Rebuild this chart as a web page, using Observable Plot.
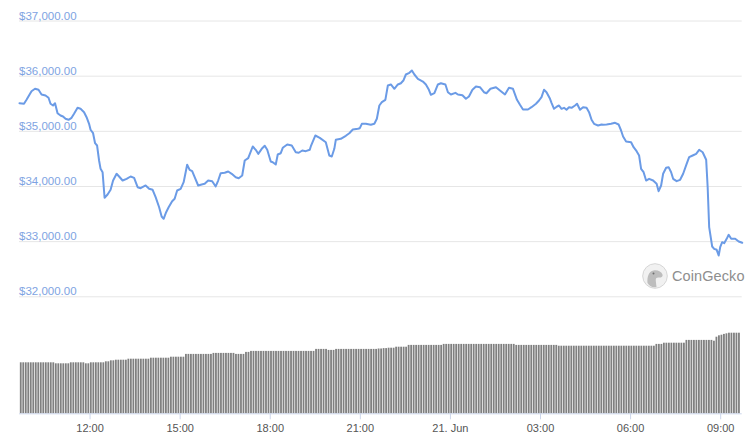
<!DOCTYPE html>
<html>
<head>
<meta charset="utf-8">
<script src="https://cdn.jsdelivr.net/npm/d3@7"></script>
<script src="https://cdn.jsdelivr.net/npm/@observablehq/plot@0.6"></script>
<style>
  html, body { margin: 0; padding: 0; background: #fff; }
  #chart { position: relative; width: 750px; height: 441px; overflow: hidden; font-family: "Liberation Sans", Arial, sans-serif; }
  #price { position: absolute; left: 0; top: 0; }
  #volume { position: absolute; left: 0; top: 320px; }
  #price svg, #volume svg { display: block; }
  #wm { position: absolute; left: 642px; top: 263px; height: 26px; display: flex; align-items: center; z-index: 5; }
  #wm span { margin-left: 4px; font-size: 14.5px; color: #8e8e8e; letter-spacing: 0.1px; }
  #volume [aria-label="x-axis"] line,
  #volume [aria-label="x-axis tick"],
  #volume [aria-label="x-axis tick"] path { stroke: #ccd6eb; }
</style>
</head>
<body>
<div id="chart">
  <div id="price"></div>
  <div id="volume"></div>
  <div id="wm">
    <svg width="26" height="26" viewBox="0 0 26 26">
      <circle cx="13" cy="13" r="12.3" fill="#f1f1f1" stroke="#d6d6d6" stroke-width="1"/>
      <path d="M5.5,20 C5,14 6.5,8.5 11.5,7.5 C15.5,6.8 19.5,8.5 20.5,11.5 C21.2,13.5 19.5,14.8 16.5,14.6 C14.5,14.5 13.5,15.5 13.8,18 L14.5,24 C11,24.8 7.5,23.5 5.5,20 Z" fill="#bdbdbd"/>
      <circle cx="11.5" cy="10.5" r="1" fill="#6e6e6e"/>
    </svg>
    <span>CoinGecko</span>
  </div>
</div>
<script>
// ---- data ----
const xStart = "2021-06-20 09:39";
const xEnd = "2021-06-21 09:43";

const priceTimes = [
  "2021-06-20 09:39","2021-06-20 09:48","2021-06-20 09:53","2021-06-20 09:58","2021-06-20 10:03","2021-06-20 10:10",
  "2021-06-20 10:17","2021-06-20 10:23","2021-06-20 10:31","2021-06-20 10:37","2021-06-20 10:41","2021-06-20 10:46",
  "2021-06-20 10:50","2021-06-20 10:55","2021-06-20 11:01","2021-06-20 11:06","2021-06-20 11:11","2021-06-20 11:17",
  "2021-06-20 11:23","2021-06-20 11:28","2021-06-20 11:35","2021-06-20 11:41","2021-06-20 11:48","2021-06-20 11:53",
  "2021-06-20 11:58","2021-06-20 12:01","2021-06-20 12:06","2021-06-20 12:10","2021-06-20 12:14","2021-06-20 12:18",
  "2021-06-20 12:21","2021-06-20 12:25","2021-06-20 12:29","2021-06-20 12:35","2021-06-20 12:41","2021-06-20 12:46",
  "2021-06-20 12:53","2021-06-20 12:58","2021-06-20 13:05","2021-06-20 13:13","2021-06-20 13:21","2021-06-20 13:28",
  "2021-06-20 13:35","2021-06-20 13:41","2021-06-20 13:51","2021-06-20 13:58","2021-06-20 14:05","2021-06-20 14:11",
  "2021-06-20 14:18","2021-06-20 14:23","2021-06-20 14:27","2021-06-20 14:32","2021-06-20 14:37","2021-06-20 14:44",
  "2021-06-20 14:49","2021-06-20 14:54","2021-06-20 15:01","2021-06-20 15:07","2021-06-20 15:14","2021-06-20 15:19",
  "2021-06-20 15:24","2021-06-20 15:29","2021-06-20 15:36","2021-06-20 15:43","2021-06-20 15:49","2021-06-20 15:56",
  "2021-06-20 16:04","2021-06-20 16:11","2021-06-20 16:16","2021-06-20 16:21","2021-06-20 16:29","2021-06-20 16:36",
  "2021-06-20 16:43","2021-06-20 16:51","2021-06-20 16:57","2021-06-20 17:04","2021-06-20 17:09","2021-06-20 17:16",
  "2021-06-20 17:25","2021-06-20 17:31","2021-06-20 17:36","2021-06-20 17:43","2021-06-20 17:49","2021-06-20 17:54",
  "2021-06-20 18:01","2021-06-20 18:05","2021-06-20 18:11","2021-06-20 18:15","2021-06-20 18:21","2021-06-20 18:25",
  "2021-06-20 18:34","2021-06-20 18:43","2021-06-20 18:51","2021-06-20 18:57","2021-06-20 19:04","2021-06-20 19:11",
  "2021-06-20 19:19","2021-06-20 19:21","2021-06-20 19:30","2021-06-20 19:39","2021-06-20 19:51","2021-06-20 19:58",
  "2021-06-20 20:03","2021-06-20 20:08","2021-06-20 20:11","2021-06-20 20:21","2021-06-20 20:31","2021-06-20 20:38",
  "2021-06-20 20:45","2021-06-20 20:55","2021-06-20 20:59","2021-06-20 21:03","2021-06-20 21:11","2021-06-20 21:21",
  "2021-06-20 21:28","2021-06-20 21:33","2021-06-20 21:38","2021-06-20 21:43","2021-06-20 21:50","2021-06-20 21:55",
  "2021-06-20 22:01","2021-06-20 22:08","2021-06-20 22:15","2021-06-20 22:21","2021-06-20 22:26","2021-06-20 22:31",
  "2021-06-20 22:38","2021-06-20 22:43","2021-06-20 22:48","2021-06-20 22:55","2021-06-20 23:05","2021-06-20 23:11",
  "2021-06-20 23:17","2021-06-20 23:21","2021-06-20 23:28","2021-06-20 23:35","2021-06-20 23:41","2021-06-20 23:50",
  "2021-06-20 23:55","2021-06-21 00:01","2021-06-21 00:10","2021-06-21 00:15","2021-06-21 00:24","2021-06-21 00:31",
  "2021-06-21 00:37","2021-06-21 00:44","2021-06-21 00:51","2021-06-21 00:59","2021-06-21 01:07","2021-06-21 01:12",
  "2021-06-21 01:20","2021-06-21 01:31","2021-06-21 01:39","2021-06-21 01:49","2021-06-21 01:57","2021-06-21 02:05",
  "2021-06-21 02:13","2021-06-21 02:19","2021-06-21 02:25","2021-06-21 02:35","2021-06-21 02:42","2021-06-21 02:51",
  "2021-06-21 02:57","2021-06-21 03:02","2021-06-21 03:07","2021-06-21 03:12","2021-06-21 03:19","2021-06-21 03:22",
  "2021-06-21 03:27","2021-06-21 03:33","2021-06-21 03:37","2021-06-21 03:42","2021-06-21 03:47","2021-06-21 03:52",
  "2021-06-21 03:57","2021-06-21 04:02","2021-06-21 04:09","2021-06-21 04:13","2021-06-21 04:19","2021-06-21 04:25",
  "2021-06-21 04:32","2021-06-21 04:37","2021-06-21 04:42","2021-06-21 04:47","2021-06-21 04:55","2021-06-21 05:02",
  "2021-06-21 05:05","2021-06-21 05:12","2021-06-21 05:21","2021-06-21 05:29","2021-06-21 05:36","2021-06-21 05:41",
  "2021-06-21 05:45","2021-06-21 05:51","2021-06-21 06:01","2021-06-21 06:06","2021-06-21 06:12","2021-06-21 06:17",
  "2021-06-21 06:21","2021-06-21 06:26","2021-06-21 06:31","2021-06-21 06:37","2021-06-21 06:45","2021-06-21 06:52",
  "2021-06-21 06:56","2021-06-21 07:01","2021-06-21 07:05","2021-06-21 07:11","2021-06-21 07:16","2021-06-21 07:21",
  "2021-06-21 07:25","2021-06-21 07:32","2021-06-21 07:39","2021-06-21 07:45","2021-06-21 07:52","2021-06-21 07:57",
  "2021-06-21 08:04","2021-06-21 08:11","2021-06-21 08:17","2021-06-21 08:24","2021-06-21 08:31","2021-06-21 08:34",
  "2021-06-21 08:37","2021-06-21 08:43","2021-06-21 08:47","2021-06-21 08:52","2021-06-21 08:56","2021-06-21 08:59",
  "2021-06-21 09:03","2021-06-21 09:07","2021-06-21 09:12","2021-06-21 09:16","2021-06-21 09:21","2021-06-21 09:29",
  "2021-06-21 09:36","2021-06-21 09:43"
];

const priceValues = [
  35510,35500,35571,35649,35727,35771,
  35753,35668,35649,35608,35500,35468,
  35510,35329,35287,35269,35227,35209,
  35245,35318,35426,35408,35347,35256,
  35136,35028,34966,34785,34743,34471,
  34320,34259,33795,33855,33940,34108,
  34230,34181,34108,34139,34181,34157,
  33987,33969,34018,33958,33940,33806,
  33624,33456,33414,33534,33624,33733,
  33777,33927,33958,34078,34393,34302,
  34277,34168,34018,34036,34049,34108,
  34096,34000,34108,34241,34248,34272,
  34230,34168,34150,34199,34471,34513,
  34725,34665,34592,34683,34737,34665,
  34453,34440,34398,34580,34603,34701,
  34761,34743,34621,34611,34652,34640,
  34665,34725,34924,34882,34803,34562,
  34544,34683,34846,34864,34919,34966,
  35033,35046,35057,35136,35136,35118,
  35136,35227,35468,35528,35571,35831,
  35849,35771,35849,35872,35921,36030,
  36061,36103,36030,35952,35903,35849,
  35753,35662,35691,35849,35872,35849,
  35709,35668,35698,35668,35655,35590,
  35631,35753,35813,35800,35709,35691,
  35771,35800,35740,35668,35789,35771,
  35571,35481,35396,35396,35437,35500,
  35559,35619,35753,35709,35590,35517,
  35408,35450,35468,35408,35426,35390,
  35437,35426,35468,35500,35390,35437,
  35426,35347,35209,35136,35106,35124,
  35118,35124,35136,35154,35124,35015,
  34906,34815,34803,34712,34640,34562,
  34320,34259,34108,34139,34108,34049,
  33914,34018,34230,34339,34350,34259,
  34139,34096,34121,34230,34411,34531,
  34562,34592,34665,34621,34484,33987,
  33262,32912,32870,32852,32749,32899,
  32990,32972,33051,33124,33051,33051,
  33003,32979
];

// 24h volume (relative), one bar per 5 minutes, starting 09:40
const volumeStart = "2021-06-20 09:40";
const volumeStepMinutes = 5;
const volumeValues = [
  25.5,25.5,25.5,25.5,25.5,25.5,25.5,25.5,25.5,25.5,25.5,25.5,25.5,25.5,25.0,25.0,25.0,25.0,25.0,25.0,25.5,25.5,25.5,25.5,
  25.5,25.5,25.0,25.0,25.5,25.5,25.5,25.5,25.5,25.5,26.0,26.0,26.5,26.5,26.8,26.8,26.8,26.8,26.8,27.3,27.3,27.3,27.3,27.3,
  27.3,27.3,27.3,27.3,27.8,27.8,27.8,27.8,27.8,27.8,27.8,27.8,28.3,28.3,28.3,28.3,28.3,28.3,29.7,29.7,29.7,29.7,29.7,29.7,
  29.7,29.7,29.7,29.7,29.7,30.2,30.2,30.2,30.2,30.2,30.2,30.2,30.2,30.2,29.7,29.7,29.7,29.7,30.7,30.7,31.2,31.2,31.2,31.2,
  31.2,31.2,31.2,31.2,31.2,31.2,31.2,31.2,31.2,31.2,31.2,31.2,31.2,31.2,31.2,31.2,31.2,31.2,31.2,31.2,31.2,31.2,32.2,32.2,
  32.2,32.2,32.2,31.7,31.7,31.7,32.2,32.2,32.2,32.2,32.2,32.2,32.2,32.2,32.2,32.2,32.2,32.2,32.2,32.2,32.2,32.2,32.2,32.4,
  32.4,32.6,32.6,32.8,32.8,32.8,33.3,33.3,33.3,33.3,33.3,34.2,34.2,34.2,34.2,34.2,34.2,34.2,34.2,34.2,34.2,34.2,34.2,34.2,
  34.2,34.7,34.7,34.7,34.7,34.7,34.7,34.7,34.7,34.7,34.7,34.7,34.7,34.7,34.7,34.7,34.7,34.7,34.7,34.7,34.7,34.7,34.7,34.7,
  34.7,34.7,34.7,34.7,34.7,34.7,34.2,34.2,34.2,34.2,34.2,34.2,34.2,34.2,34.2,34.2,34.2,34.2,34.2,34.2,34.2,34.2,34.2,33.8,
  33.8,33.8,33.8,33.8,33.8,33.8,33.8,33.8,33.8,33.8,33.8,33.8,33.8,33.8,33.8,33.8,33.8,33.8,33.8,33.8,33.8,33.8,33.8,33.8,
  33.8,33.8,33.8,33.8,33.8,33.8,33.8,33.8,33.8,33.8,33.8,33.8,33.8,33.8,34.7,34.7,34.7,35.3,35.3,35.3,35.3,35.3,35.3,35.3,
  35.3,35.3,36.7,36.7,36.7,36.7,36.7,36.7,36.7,36.7,36.7,36.7,36.7,36.3,38.3,39.0,39.3,39.7,40.0,40.3,40.3,40.3,40.3,40.3
];

const yTickValues = [32000, 33000, 34000, 35000, 36000, 37000];
const yTickLabels = ["$32,000.00", "$33,000.00", "$34,000.00", "$35,000.00", "$36,000.00", "$37,000.00"];

const xTickTimes = ["2021-06-20 12:00","2021-06-20 15:00","2021-06-20 18:00","2021-06-20 21:00",
                    "2021-06-21 00:00","2021-06-21 03:00","2021-06-21 06:00","2021-06-21 09:00"];
const xTickLabels = ["12:00","15:00","18:00","21:00","21. Jun","03:00","06:00","09:00"];

// ---- build ----
const parse = d3.utcParse("%Y-%m-%d %H:%M");
const xDomain = [parse(xStart), parse(xEnd)];
const priceData = priceTimes.map((t, i) => ({time: parse(t), price: priceValues[i]}));
const yTicks = yTickValues.map((v, i) => ({value: v, label: yTickLabels[i]}));
const v0 = parse(volumeStart);
const volData = volumeValues.map((v, i) => ({
  t0: d3.utcMinute.offset(v0, i * volumeStepMinutes),
  t1: d3.utcMinute.offset(v0, (i + 1) * volumeStepMinutes),
  vol: v
}));
const xTicks = xTickTimes.map(parse);
const tickLabelMap = new Map(xTicks.map((d, i) => [+d, xTickLabels[i]]));

const font = '"Liberation Sans", Arial, sans-serif';
const mL = 19, mR = 8.3;

const pricePlot = Plot.plot({
  width: 750, height: 320,
  marginLeft: mL, marginRight: mR, marginTop: 20.5, marginBottom: 23.7,
  x: {type: "utc", domain: xDomain, axis: null},
  y: {domain: [32000, 37000], axis: null},
  style: {background: "transparent", fontFamily: font, overflow: "visible"},
  marks: [
    Plot.ruleY(yTicks, {y: "value", stroke: "#e6e6e6", strokeWidth: 1}),
    Plot.text(yTicks, {y: "value", text: "label", frameAnchor: "left", textAnchor: "start",
                       dx: -0.5, dy: -5, fill: "#7ea3e2", fontSize: 11.5}),
    Plot.line(priceData, {x: "time", y: "price", stroke: "#6b9be6", strokeWidth: 2,
                          strokeLinejoin: "round", strokeLinecap: "round"})
  ]
});
document.getElementById("price").appendChild(pricePlot);

const volPlot = Plot.plot({
  width: 750, height: 121,
  marginLeft: mL, marginRight: mR, marginTop: 12.7, marginBottom: 27.7,
  x: {type: "utc", domain: xDomain, ticks: xTicks, tickFormat: d => tickLabelMap.get(+d),
      tickSize: 6, tickPadding: 4, label: null},
  y: {domain: [0, 40.3], axis: null},
  style: {background: "transparent", fontFamily: font, fontSize: "11px", color: "#555", overflow: "visible"},
  marks: [
    Plot.rectY(volData, {x1: "t0", x2: "t1", y: "vol", fill: "#808080", insetLeft: 0.35, insetRight: 0.35}),
    Plot.ruleY([0], {stroke: "#ccd6eb", strokeWidth: 1})
  ]
});
document.getElementById("volume").appendChild(volPlot);
</script>
</body>
</html>
